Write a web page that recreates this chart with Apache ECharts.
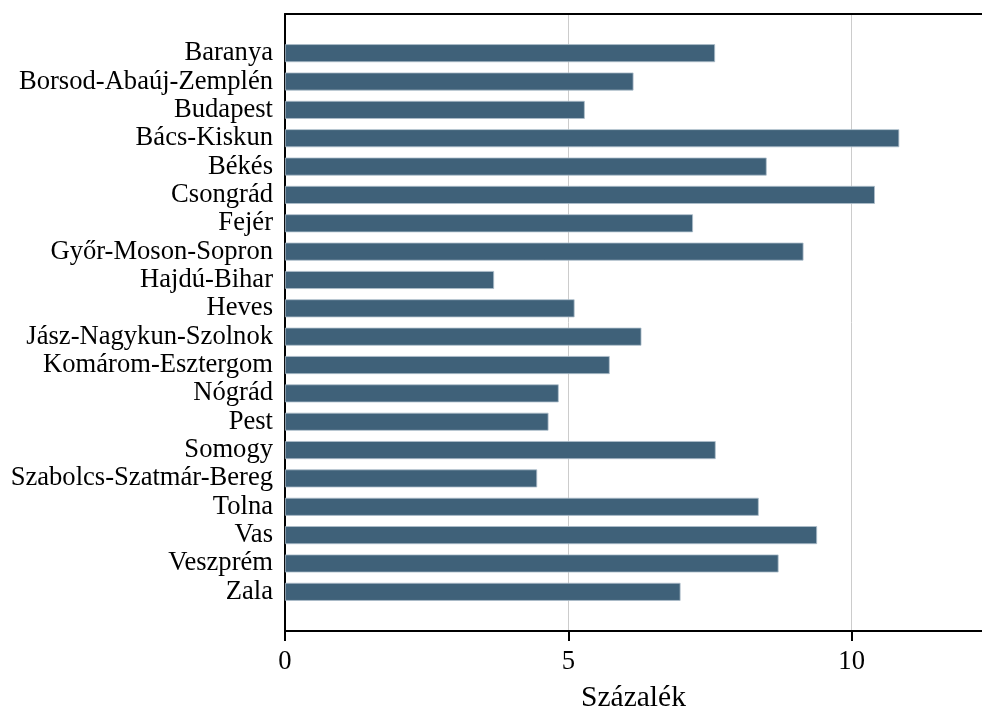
<!DOCTYPE html>
<html>
<head>
<meta charset="utf-8">
<script src="https://cdn.jsdelivr.net/npm/echarts@6/dist/echarts.min.js"></script>
<style>html,body{margin:0;padding:0;background:#fff}#c{width:982px;height:713px}</style>
</head>
<body>
<div id="c"></div>
<script>
const categories = ["Baranya","Borsod-Abaúj-Zemplén","Budapest","Bács-Kiskun","Békés","Csongrád","Fejér","Győr-Moson-Sopron","Hajdú-Bihar","Heves","Jász-Nagykun-Szolnok","Komárom-Esztergom","Nógrád","Pest","Somogy","Szabolcs-Szatmár-Bereg","Tolna","Vas","Veszprém","Zala"];
const values = [7.59,6.15,5.29,10.84,8.50,10.41,7.20,9.15,3.69,5.11,6.29,5.73,4.83,4.65,7.60,4.45,8.36,9.39,8.71,6.98];
const xTicks = [0,5,10];
const xTitle = "Százalék";

const font = "'Liberation Serif','Times New Roman',serif";
const xMax = 12.3;
const chart = echarts.init(document.getElementById('c'), null, {renderer:'canvas'});
chart.setOption({
  animation:false,
  grid:[
    {left:285, right:0, top:14, bottom:82, containLabel:false, outerBoundsMode:'none'},
    {left:285, right:0, top:39, bottom:107, containLabel:false, outerBoundsMode:'none'}
  ],
  xAxis:[
    {gridIndex:0, type:'value', min:0, max:xMax, interval:5,
     axisLine:{show:true, lineStyle:{color:'#000', width:2}},
     axisTick:{show:true, length:10, lineStyle:{color:'#000', width:2},
       customValues: xTicks},
     axisLabel:{fontFamily:font, fontSize:26.6, color:'#000', margin:18,
       customValues: xTicks, formatter:v=>String(v)},
     splitLine:{show:true, lineStyle:{color:'#cccccc', width:1}},
     name:xTitle, nameLocation:'middle', nameGap:52,
     nameTextStyle:{fontFamily:font, fontSize:29.5, color:'#000'}},
    {gridIndex:0, type:'value', position:'top', min:0, max:xMax,
     axisLine:{show:true, lineStyle:{color:'#000', width:2}},
     axisTick:{show:false}, axisLabel:{show:false}, splitLine:{show:false}},
    {gridIndex:1, type:'value', min:0, max:xMax, show:false}
  ],
  yAxis:[
    {gridIndex:0, type:'value', min:0, max:1,
     axisLine:{show:true, lineStyle:{color:'#000', width:2}},
     axisTick:{show:false}, axisLabel:{show:false}, splitLine:{show:false}},
    {gridIndex:1, type:'category', data:categories, inverse:true,
     axisLine:{show:false}, axisTick:{show:false},
     axisLabel:{fontFamily:font, fontSize:26.6, color:'#000', margin:12, interval:0},
     splitLine:{show:false}}
  ],
  series:[{
    type:'bar', xAxisIndex:2, yAxisIndex:1, data:values, barWidth:18,
    itemStyle:{color:'#3f6179', borderColor:'#aebfcc', borderWidth:0.8}
  }]
});
</script>
</body>
</html>
